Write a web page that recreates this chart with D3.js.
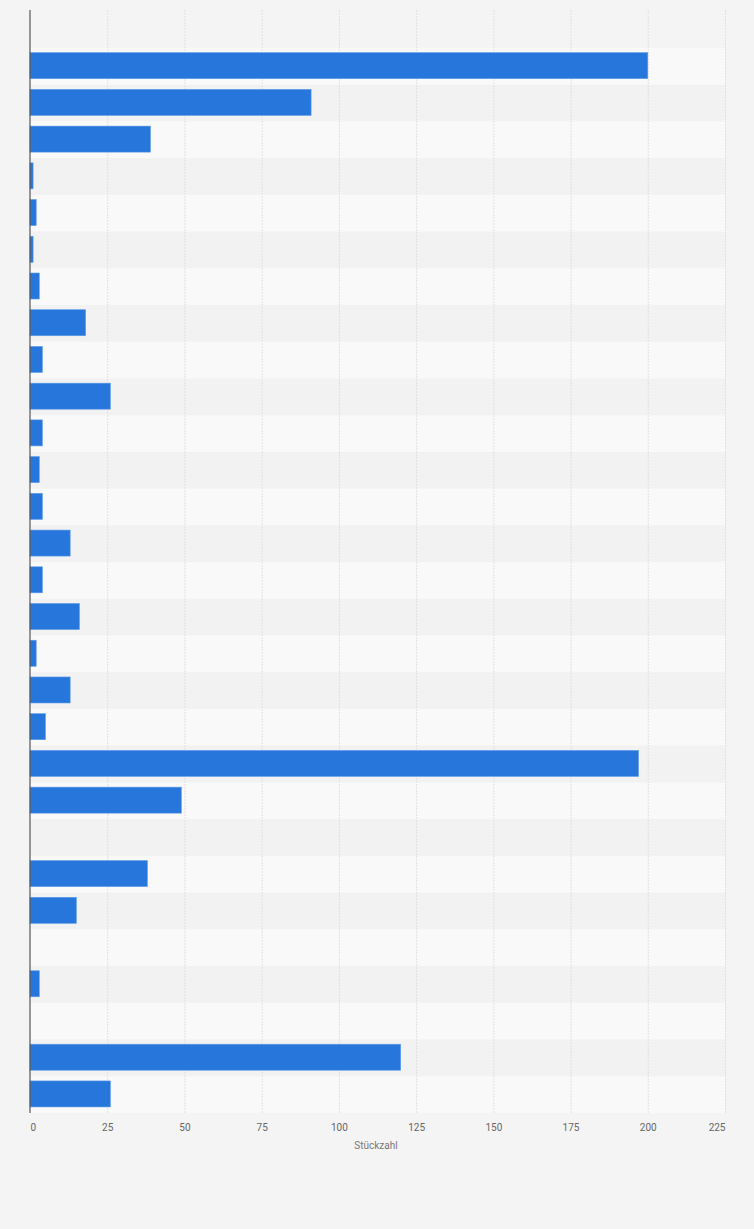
<!DOCTYPE html>
<html>
<head>
<meta charset="utf-8">
<script src="https://cdn.jsdelivr.net/npm/d3@7"></script>
<style>
  html, body { margin: 0; padding: 0; background: #f4f4f4; }
  #chart { width: 754px; height: 1229px; }
  .tick text { font-family: Roboto, "Noto Sans", sans-serif; }
</style>
</head>
<body>
<div id="chart"></div>
<script>
// Werte pro Zeile (von oben nach unten)
const rows = d3.range(1, 30).map(String);
const values = [200, 91, 39, 1, 2, 1, 3, 18, 4, 26, 4, 3, 4, 13, 4, 16, 2, 13, 5, 197, 49, 0, 38, 15, 0, 3, 0, 120, 26];
const xTicks = [0, 25, 50, 75, 100, 125, 150, 175, 200, 225];
const xTitle = 'Stückzahl';

const width = 754;
const height = 1229;
const margin = { left: 30, right: 29, top: 10, bottom: 116 };
const bandTop = 48; // die Zeilen beginnen etwas unterhalb der Achsenoberkante

const svg = d3.select('#chart').append('svg')
    .attr('width', width)
    .attr('height', height);

svg.append('rect')
    .attr('width', width)
    .attr('height', height)
    .attr('fill', '#f4f4f4');

const x = d3.scaleLinear()
    .domain([0, 225])
    .range([margin.left, width - margin.right]);

const y = d3.scaleBand()
    .domain(rows)
    .range([bandTop, height - margin.bottom])
    .paddingInner(0);

// Zeilenhintergrund (abwechselnd)
svg.append('g').selectAll('rect')
    .data(rows)
    .join('rect')
    .attr('x', x(0))
    .attr('y', d => y(d))
    .attr('width', x(225) - x(0))
    .attr('height', y.bandwidth())
    .attr('fill', (d, i) => i % 2 === 0 ? '#f9f9f9' : '#f2f2f2');

// Gitterlinien
svg.append('g').selectAll('line')
    .data(xTicks.slice(1))
    .join('line')
    .attr('x1', d => x(d) + 0.5)
    .attr('x2', d => x(d) + 0.5)
    .attr('y1', margin.top)
    .attr('y2', height - margin.bottom)
    .attr('stroke', '#e1e1e1')
    .attr('stroke-width', 1)
    .attr('stroke-dasharray', '2,1');

// Balken
const barH = 26;
svg.append('g').selectAll('rect')
    .data(values)
    .join('rect')
    .attr('x', x(0))
    .attr('y', (d, i) => y(rows[i]) + (y.bandwidth() - barH) / 2 - 0.7)
    .attr('width', d => Math.max(0, x(d) - x(0)))
    .attr('height', barH)
    .attr('fill', '#2776dc')
    .attr('stroke', '#5b9ae8')
    .attr('stroke-width', d => d > 0 ? 0.6 : 0);

// y-Achsenlinie
svg.append('line')
    .attr('x1', x(0))
    .attr('x2', x(0))
    .attr('y1', margin.top)
    .attr('y2', height - margin.bottom)
    .attr('stroke', '#555')
    .attr('stroke-width', 1.2);

// x-Achse
const xAxis = svg.append('g')
    .attr('transform', `translate(0,${height - margin.bottom})`)
    .call(d3.axisBottom(x).tickValues(xTicks).tickSize(0).tickPadding(11));

xAxis.select('.domain').remove();
xAxis.selectAll('text')
    .attr('fill', '#666')
    .style('font-size', '10px')
    .attr('text-anchor', (d, i) => i === 0 ? 'start' : (i === xTicks.length - 1 ? 'end' : 'middle'));

svg.append('text')
    .attr('x', 376)
    .attr('y', 1149)
    .attr('text-anchor', 'middle')
    .style('font-family', 'Roboto, "Noto Sans", sans-serif')
    .style('font-size', '10px')
    .attr('fill', '#777')
    .text(xTitle);
</script>
</body>
</html>
